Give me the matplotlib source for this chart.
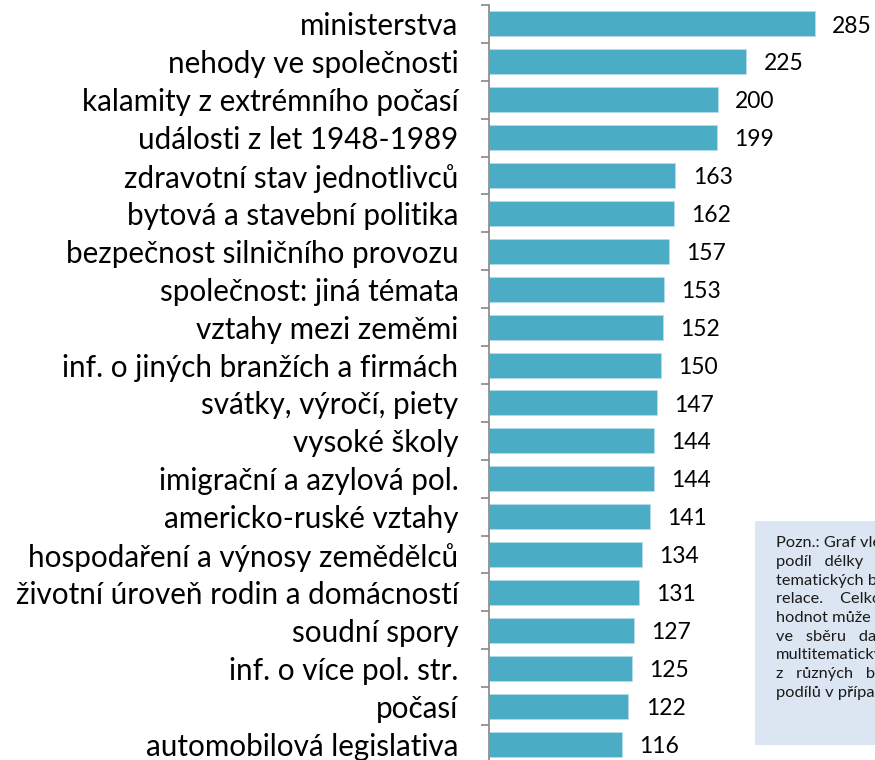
import matplotlib
matplotlib.use("Agg")
import matplotlib.pyplot as plt
from matplotlib.patches import Rectangle

categories = [
    "ministerstva",
    "nehody ve společnosti",
    "kalamity z extrémního počasí",
    "události z let 1948-1989",
    "zdravotní stav jednotlivců",
    "bytová a stavební politika",
    "bezpečnost silničního provozu",
    "společnost: jiná témata",
    "vztahy mezi zeměmi",
    "inf. o jiných branžích a firmách",
    "svátky, výročí, piety",
    "vysoké školy",
    "imigrační a azylová pol.",
    "americko-ruské vztahy",
    "hospodaření a výnosy zemědělců",
    "životní úroveň rodin a domácností",
    "soudní spory",
    "inf. o více pol. str.",
    "počasí",
    "automobilová legislativa",
]
values = [285, 225, 200, 199, 163, 162, 157, 153, 152, 150,
          147, 144, 144, 141, 134, 131, 127, 125, 122, 116]

note_lines = [
    "Pozn.: Graf vlevo zobrazuje",
    "podíl   délky   zpráv",
    "tematických bloků",
    "relace.    Celkový",
    "hodnot může být",
    "ve   sběru   dat",
    "multitematických",
    "z   různých   bloků",
    "podílů v případě",
]

plt.rcParams['font.family'] = ['Lato', 'DejaVu Sans']

W, H = 875, 760
fig = plt.figure(figsize=(W / 100, H / 100), dpi=100)
fig.patch.set_facecolor("white")

ax_left = 489 / W
ax_w = 343 / W
ax_top = 1 - 5 / H
ax_bottom = -3 / H
ax = fig.add_axes([ax_left, ax_bottom, ax_w, ax_top - ax_bottom])
ax.set_facecolor("none")

y = list(range(len(categories)))
ax.barh(y, values, height=0.66, color="#4BACC6", edgecolor="#B7DDE8", linewidth=0.6, zorder=2)
ax.set_xlim(0, 300)
ax.set_ylim(len(categories) - 0.5, -0.5)

for yi, v in zip(y, values):
    ax.annotate(str(v), (v, yi), xytext=(12.5, -1.5), textcoords="offset points",
                va="center", ha="left", fontsize=16.5, color="black", clip_on=False)

for s in ["top", "right", "bottom"]:
    ax.spines[s].set_visible(False)
ax.spines["left"].set_color("#868686")
ax.spines["left"].set_linewidth(1.2)

ax.set_xticks([])
ax.set_yticks(y)
ax.set_yticklabels(categories, fontsize=21.3)
ax.tick_params(axis="y", which="major", length=0, pad=22)
ax.set_yticks([k - 0.5 for k in range(len(categories) + 1)], minor=True)
ax.tick_params(axis="y", which="minor", length=6, width=1.2, color="#868686")

# note box
bx0, by0 = 755, 521
fig.add_artist(Rectangle((bx0 / W, 1 - 745 / H), (W - bx0 + 5) / W, (745 - by0) / H,
                         transform=fig.transFigure, facecolor="#DCE6F2",
                         edgecolor="none", zorder=0))
line_y = [543, 562, 581, 599, 618, 637, 655, 674, 693]
for txt, ly in zip(note_lines, line_y):
    fig.text(776 / W, 1 - ly / H, txt, fontsize=11.8, va="center", ha="left", color="#1a1a1a")

fig.savefig("out.png", dpi=100)
